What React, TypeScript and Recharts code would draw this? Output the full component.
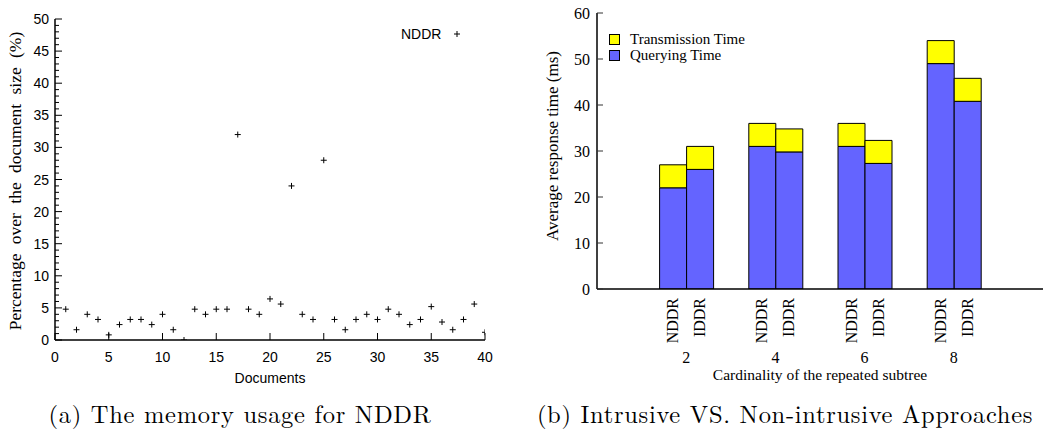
import React from "react";
import {
  ScatterChart, Scatter, BarChart, Bar, XAxis, YAxis, Legend,
} from "recharts";

// memory usage per document (percentage of document size)
const documentIds = [
  1, 2, 3, 4, 5, 6, 7, 8, 9, 10, 11, 12, 13, 14, 15, 16, 17, 18, 19, 20,
  21, 22, 23, 24, 25, 26, 27, 28, 29, 30, 31, 32, 33, 34, 35, 36, 37, 38, 39, 40,
];
const memoryUsage = [
  4.8, 1.6, 4.0, 3.2, 0.8, 2.4, 3.2, 3.2, 2.4, 4.0, 1.6, 0.0, 4.8, 4.0, 4.8, 4.8, 32.0, 4.8, 4.0, 6.4,
  5.6, 24.0, 4.0, 3.2, 28.0, 3.2, 1.6, 3.2, 4.0, 3.2, 4.8, 4.0, 2.4, 3.2, 5.2, 2.8, 1.6, 3.2, 5.6, 1.2,
];
const docTicks = [0, 5, 10, 15, 20, 25, 30, 35, 40];

// response time per cardinality of the repeated subtree
const cardinalities = ["2", "4", "6", "8"];
const nddrQuerying = [22, 31, 31, 49];
const nddrTransmission = [5, 5, 5, 5];
const iddrQuerying = [26, 29.8, 27.3, 40.8];
const iddrTransmission = [5, 5, 5, 5];
const timeTicks = [0, 10, 20, 30, 40, 50, 60];

const SANS = "'Liberation Sans Narrow', 'Liberation Sans', Arial, sans-serif";
const SERIF = "'Liberation Serif', 'Times New Roman', serif";
const CAPTION = "'Latin Modern Roman', 'CMU Serif', 'Liberation Serif', serif";

const BLUE = "#6464ff";
const YELLOW = "#ffff00";
const BAR_SIZE = 27;

const scatterData = documentIds.map((doc, i) => ({ doc, usage: memoryUsage[i] }));

const barData = cardinalities.map((card, i) => ({
  card,
  nddrQ: nddrQuerying[i],
  nddrT: nddrTransmission[i],
  iddrQ: iddrQuerying[i],
  iddrT: iddrTransmission[i],
}));

// minor ticks every 1% on the left chart's y axis, labelled every 5
const usageMinor = Array.from({ length: 51 }, (_, i) => i);

const PlusMark = (props: any) => {
  const { cx, cy } = props;
  if (cx == null || cy == null) return null;
  return (
    <g stroke="#000" strokeWidth={1}>
      <line x1={cx - 3} y1={cy} x2={cx + 3} y2={cy} />
      <line x1={cx} y1={cy - 3} x2={cx} y2={cy + 3} />
    </g>
  );
};

// ---- left chart ticks (drawn inward, gnuplot style) ----
const DocBottomTick = ({ x, y, payload }: any) => (
  <g>
    <line x1={x} y1={y} x2={x} y2={y - 7} stroke="#000" strokeWidth={1} />
    <text x={x} y={y + 22} textAnchor="middle" fontFamily={SANS} fontSize={14} fill="#000">
      {payload.value}
    </text>
  </g>
);

const DocTopTick = ({ x, y }: any) => (
  <line x1={x} y1={y} x2={x} y2={y + 6} stroke="#000" strokeWidth={1} />
);

const UsageLeftTick = ({ x, y, payload }: any) => {
  const major = payload.value % 5 === 0;
  return (
    <g>
      <line x1={x} y1={y} x2={x + (major ? 7 : 4)} y2={y} stroke="#000" strokeWidth={1} />
      {major && (
        <text x={x - 6} y={y + 5} textAnchor="end" fontFamily={SANS} fontSize={14} fill="#000">
          {payload.value}
        </text>
      )}
    </g>
  );
};

const UsageRightTick = ({ x, y, payload }: any) => {
  const major = payload.value % 5 === 0;
  return <line x1={x} y1={y} x2={x - (major ? 7 : 4)} y2={y} stroke="#000" strokeWidth={1} />;
};

// ---- right chart ticks ----
const CardBottomTick = ({ x, y, payload }: any) => {
  const off = BAR_SIZE / 2;
  return (
    <g fontFamily={SERIF} fontSize={16} fill="#000">
      {[["NDDR", x - off], ["IDDR", x + off]].map(([label, bx]: any) => (
        <text
          key={label}
          x={bx + 5.5}
          y={y + 9}
          textAnchor="end"
          transform={`rotate(-90 ${bx + 5.5} ${y + 9})`}
        >
          {label}
        </text>
      ))}
      <text x={x} y={y + 74} textAnchor="middle">{payload.value}</text>
    </g>
  );
};

const CardTopTick = ({ x, y }: any) => {
  const off = BAR_SIZE / 2;
  return (
    <g stroke="#333" strokeWidth={1}>
      <line x1={x - off} y1={y} x2={x - off} y2={y + 7} />
      <line x1={x + off} y1={y} x2={x + off} y2={y + 7} />
    </g>
  );
};

const TimeLeftTick = ({ x, y, payload }: any) => (
  <g>
    <line x1={x} y1={y} x2={x + 6} y2={y} stroke="#333" strokeWidth={1} />
    <text x={x - 7} y={y + 5.5} textAnchor="end" fontFamily={SERIF} fontSize={16} fill="#000">
      {payload.value}
    </text>
  </g>
);

const TimeRightTick = ({ x, y }: any) => (
  <line x1={x} y1={y} x2={x - 6} y2={y} stroke="#333" strokeWidth={1} />
);

const ScatterLegend = () => (
  <div style={{ display: "flex", alignItems: "center", fontFamily: SANS, fontSize: 14 }}>
    <span>NDDR</span>
    <svg width={30} height={10} style={{ marginLeft: 7 }}>
      <PlusMark cx={9} cy={5} />
    </svg>
  </div>
);

const BarLegend = () => (
  <div style={{ fontFamily: SERIF, fontSize: 15, lineHeight: "15.5px" }}>
    {[["Transmission Time", YELLOW], ["Querying Time", BLUE]].map(([name, color]) => (
      <div key={name} style={{ display: "flex", alignItems: "center" }}>
        <span
          style={{
            display: "inline-block", width: 9, height: 9, background: color,
            border: "1px solid #000", marginRight: 10,
          }}
        />
        {name}
      </div>
    ))}
  </div>
);

const axisLine = { stroke: "#000", strokeWidth: 1.5 };

const caption = {
  position: "absolute" as const, top: 413, transform: "translate(-50%, -50%)",
  whiteSpace: "nowrap" as const, fontFamily: CAPTION, fontSize: 24.5, letterSpacing: 0.7, lineHeight: 1,
};

export default function App() {
  return (
    <div
      style={{
        position: "absolute", left: 0, top: 0, width: 1044, height: 430,
        background: "#fff", overflow: "hidden",
      }}
    >
      {/* (a) memory usage scatter */}
      <div style={{ position: "absolute", left: 0, top: 0 }}>
        <ScatterChart width={520} height={400} margin={{ top: 19, right: 35, bottom: 30, left: 0 }}>
          <XAxis
            xAxisId="b" type="number" dataKey="doc" domain={[0, 40]} ticks={docTicks}
            interval={0} height={30} tickSize={0} tickMargin={0} tickLine={false}
            axisLine={axisLine} tick={<DocBottomTick />} allowDataOverflow
          />
          <XAxis
            xAxisId="t" orientation="top" type="number" domain={[0, 40]} ticks={docTicks}
            interval={0} height={0} tickSize={0} tickMargin={0} tickLine={false}
            axisLine={axisLine} tick={<DocTopTick />} allowDataOverflow
          />
          <YAxis
            yAxisId="l" type="number" dataKey="usage" domain={[0, 50]} ticks={usageMinor}
            interval={0} width={55} tickSize={0} tickMargin={0} tickLine={false}
            axisLine={axisLine} tick={<UsageLeftTick />} allowDataOverflow
          />
          <YAxis
            yAxisId="r" orientation="right" type="number" domain={[0, 50]} ticks={usageMinor}
            interval={0} width={0} tickSize={0} tickMargin={0} tickLine={false}
            axisLine={axisLine} tick={<UsageRightTick />} allowDataOverflow
          />
          <Legend
            layout="vertical" align="center" verticalAlign="middle"
            wrapperStyle={{ left: 401, top: 26, width: 80 }}
            content={<ScatterLegend />}
          />
          <Scatter
            name="NDDR" data={scatterData} xAxisId="b" yAxisId="l"
            shape={<PlusMark />} isAnimationActive={false}
          />
        </ScatterChart>
      </div>

      {/* (b) response time stacked bars */}
      <div style={{ position: "absolute", left: 520, top: 0 }}>
        <BarChart
          width={524} height={400} data={barData} barSize={BAR_SIZE} barGap={0}
          margin={{ top: 13, right: 1, bottom: 60, left: 0 }}
        >
          <XAxis
            xAxisId="b" dataKey="card" height={51} padding={{ left: 44.6, right: 44.6 }}
            tickSize={0} tickMargin={0} tickLine={false} interval={0}
            axisLine={axisLine} tick={<CardBottomTick />}
          />
          <XAxis
            xAxisId="t" orientation="top" dataKey="card" height={0} padding={{ left: 44.6, right: 44.6 }}
            tickSize={0} tickMargin={0} tickLine={false} interval={0}
            axisLine={axisLine} tick={<CardTopTick />}
          />
          <YAxis
            yAxisId="l" type="number" domain={[0, 60]} ticks={timeTicks} interval={0} width={77}
            tickSize={0} tickMargin={0} tickLine={false} axisLine={axisLine}
            tick={<TimeLeftTick />} allowDataOverflow
          />
          <YAxis
            yAxisId="r" orientation="right" type="number" domain={[0, 60]} ticks={timeTicks}
            interval={0} width={0} tickSize={0} tickMargin={0} tickLine={false}
            axisLine={axisLine} tick={<TimeRightTick />} allowDataOverflow
          />
          <Legend
            layout="vertical" align="center" verticalAlign="middle"
            wrapperStyle={{ left: 89, top: 32, width: 160 }}
            content={<BarLegend />}
          />
          <Bar dataKey="nddrQ" name="Querying Time" stackId="nddr" xAxisId="b" yAxisId="l"
            fill={BLUE} stroke="#000" strokeWidth={1} isAnimationActive={false} />
          <Bar dataKey="nddrT" name="Transmission Time" stackId="nddr" xAxisId="b" yAxisId="l"
            fill={YELLOW} stroke="#000" strokeWidth={1} isAnimationActive={false} />
          <Bar dataKey="iddrQ" name="Querying Time" stackId="iddr" xAxisId="b" yAxisId="l"
            fill={BLUE} stroke="#000" strokeWidth={1} isAnimationActive={false} />
          <Bar dataKey="iddrT" name="Transmission Time" stackId="iddr" xAxisId="b" yAxisId="l"
            fill={YELLOW} stroke="#000" strokeWidth={1} isAnimationActive={false} />
        </BarChart>
      </div>

      {/* axis titles */}
      <div
        style={{
          position: "absolute", left: 16, top: 181, transform: "translate(-50%, -50%) rotate(-90deg)",
          whiteSpace: "nowrap", fontFamily: SERIF, fontSize: 17.5, wordSpacing: 5, lineHeight: 1,
        }}
      >
        Percentage over the document size (%)
      </div>
      <div
        style={{
          position: "absolute", left: 270, top: 378, transform: "translate(-50%, -50%)",
          whiteSpace: "nowrap", fontFamily: SANS, fontSize: 14, lineHeight: 1,
        }}
      >
        Documents
      </div>
      <div
        style={{
          position: "absolute", left: 552, top: 146, transform: "translate(-50%, -50%) rotate(-90deg)",
          whiteSpace: "nowrap", fontFamily: SERIF, fontSize: 17, lineHeight: 1,
        }}
      >
        Average response time (ms)
      </div>
      <div
        style={{
          position: "absolute", left: 820, top: 375, transform: "translate(-50%, -50%)",
          whiteSpace: "nowrap", fontFamily: SERIF, fontSize: 15.5, lineHeight: 1,
        }}
      >
        Cardinality of the repeated subtree
      </div>

      {/* sub-figure captions */}
      <div style={{ ...caption, left: 240 }}>(a) The memory usage for NDDR</div>
      <div style={{ ...caption, left: 785 }}>(b) Intrusive VS. Non-intrusive Approaches</div>
    </div>
  );
}
